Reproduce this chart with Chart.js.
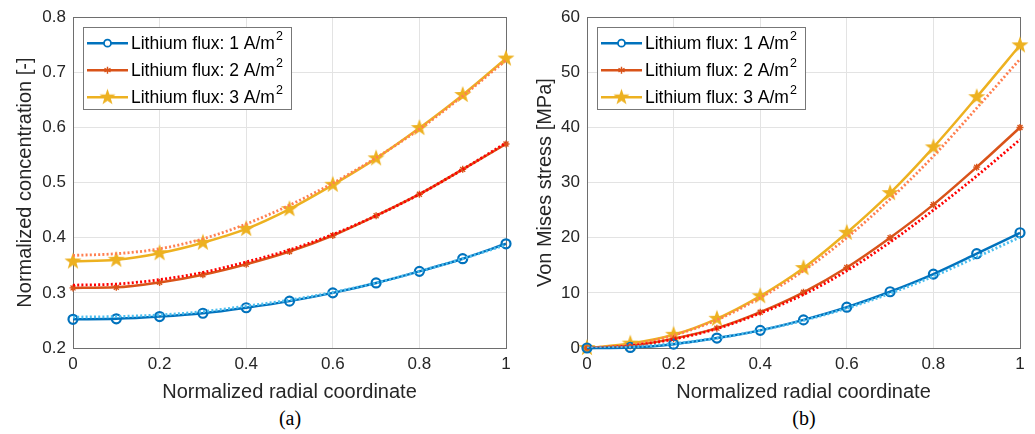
<!DOCTYPE html>
<html lang="en">
<head>
<meta charset="UTF-8">
<title>Lithium flux</title>
<script src="https://cdn.jsdelivr.net/npm/chart.js"></script>
<style>
    body { margin: 0; background: #fff; width: 1035px; height: 434px; overflow: hidden; position: relative; }
    .panel { position: absolute; top: 0; }
    .cap { position: absolute; top: 407px; font-family: "Liberation Serif", "Times New Roman", serif; font-size: 20px; color: #000; transform: translateX(-50%); }
</style>
</head>
<body>
<div class="panel" style="left:0"><canvas id="chartA" width="520" height="404"></canvas></div>
<div class="panel" style="left:520px"><canvas id="chartB" width="515" height="404"></canvas></div>
<div class="cap" style="left:290px">(a)</div>
<div class="cap" style="left:804px">(b)</div>
<script>
// radial coordinate
const xs = [0, 0.1, 0.2, 0.3, 0.4, 0.5, 0.6, 0.7, 0.8, 0.9, 1.0];
const labels = ['Lithium flux: 1 A/m²', 'Lithium flux: 2 A/m²', 'Lithium flux: 3 A/m²'];

// (a) normalized concentration, solid = markers, dotted = reference curve
const conc1 = [0.252, 0.253, 0.257, 0.263, 0.273, 0.285, 0.300, 0.318, 0.339, 0.362, 0.389];
const conc2 = [0.309, 0.310, 0.319, 0.333, 0.352, 0.375, 0.404, 0.440, 0.479, 0.524, 0.570];
const conc3 = [0.357, 0.360, 0.372, 0.391, 0.416, 0.452, 0.496, 0.544, 0.599, 0.659, 0.725];
const conc1Dot = [0.256, 0.257, 0.260, 0.266, 0.276, 0.287, 0.301, 0.318, 0.339, 0.362, 0.387];
const conc2Dot = [0.314, 0.316, 0.324, 0.337, 0.356, 0.378, 0.406, 0.440, 0.479, 0.524, 0.572];
const conc3Dot = [0.368, 0.371, 0.380, 0.398, 0.425, 0.459, 0.499, 0.545, 0.597, 0.657, 0.722];

// (b) von Mises stress [MPa]
const stress1 = [0, 0.1, 0.7, 1.8, 3.2, 5.1, 7.4, 10.2, 13.4, 17.1, 20.9];
const stress2 = [0, 0.4, 1.7, 3.6, 6.5, 10.1, 14.6, 20.0, 26.0, 32.8, 40.0];
const stress3 = [0, 0.8, 2.4, 5.3, 9.4, 14.5, 20.9, 28.1, 36.4, 45.5, 54.9];
const stress1Dot = [0, 0.2, 0.8, 1.8, 3.2, 5.0, 7.2, 9.9, 13.0, 16.5, 20.1];
const stress2Dot = [0, 0.4, 1.6, 3.5, 6.3, 9.7, 14.0, 19.2, 25.0, 31.2, 37.8];
const stress3Dot = [0, 0.6, 2.3, 5.1, 9.1, 14.0, 20.0, 27.0, 34.8, 43.5, 52.4];

const BLUE = '#0072BD', RED = '#D95319', YEL = '#EDB120';
const BLUE_DOT = '#4DBEEE', RED_DOT = '#FF0000', YEL_DOT = '#FF7F50';
const FONT = '"Liberation Sans", Arial, sans-serif';
const TXT = '#262626';

function makeStar(r, color) {
    const c = document.createElement('canvas');
    c.width = c.height = Math.ceil(2 * r + 2);
    const g = c.getContext('2d');
    const cx = c.width / 2, cy = c.height / 2;
    g.beginPath();
    for (let i = 0; i < 10; i++) {
        const rad = i % 2 === 0 ? r : r * 0.4;
        const a = -Math.PI / 2 + i * Math.PI / 5;
        g.lineTo(cx + rad * Math.cos(a), cy + rad * Math.sin(a));
    }
    g.closePath();
    g.fillStyle = color;
    g.fill();
    return c;
}
const starBig = makeStar(9, YEL);
const starSmall = makeStar(8.5, YEL);

function pts(arr) { return xs.map((x, i) => ({ x: x, y: arr[i] })); }

function solid(label, arr, color, style, radius, bw, legendMark) {
    return {
        label: label, data: pts(arr), borderColor: color, backgroundColor: 'rgba(0,0,0,0)',
        borderWidth: 2.5, pointStyle: style, pointRadius: radius, pointBorderColor: color,
        pointBorderWidth: bw, pointBackgroundColor: 'rgba(0,0,0,0)',
        cubicInterpolationMode: 'monotone', clip: false, order: 2, legendMark: legendMark
    };
}
function dotted(arr, color) {
    return {
        data: pts(arr), borderColor: color, borderWidth: 2.8, borderDash: [2, 2.2],
        pointRadius: 0, cubicInterpolationMode: 'monotone', order: 1, noLegend: true
    };
}

// axes frame (top/right border too)
const framePlugin = {
    id: 'frame',
    beforeDatasetsDraw(chart) {
        const a = chart.chartArea, ctx = chart.ctx;
        ctx.save();
        ctx.strokeStyle = '#6e6e6e';
        ctx.lineWidth = 1;
        ctx.strokeRect(Math.round(a.left) + 0.5, Math.round(a.top) + 0.5,
            Math.round(a.right - a.left), Math.round(a.bottom - a.top));
        ctx.restore();
    }
};

// boxed legend in upper left, superscript for the unit
const legendPlugin = {
    id: 'boxLegend',
    afterDatasetsDraw(chart) {
        const ctx = chart.ctx, a = chart.chartArea;
        const items = chart.data.datasets.filter(d => !d.noLegend);
        const x0 = a.left + 10, y0 = a.top + 10;
        const LF = '17.5px ' + FONT;
        ctx.save();
        ctx.font = LF;
        let maxW = 0;
        items.forEach(d => {
            const base = d.label.replace('²', '');
            maxW = Math.max(maxW, ctx.measureText(base).width + 10);
        });
        const w = 48 + maxW + 6, h = 82;
        ctx.fillStyle = '#fff';
        ctx.fillRect(x0, y0, w, h);
        ctx.strokeStyle = '#777';
        ctx.lineWidth = 1;
        ctx.strokeRect(Math.round(x0) + 0.5, Math.round(y0) + 0.5, Math.round(w), h);
        items.forEach((d, i) => {
            const cy = y0 + 16 + i * 27;
            ctx.strokeStyle = d.borderColor;
            ctx.lineWidth = 2.5;
            ctx.beginPath();
            ctx.moveTo(x0 + 4, cy);
            ctx.lineTo(x0 + 45, cy);
            ctx.stroke();
            const mx = x0 + 24.5;
            const m = d.legendMark;
            if (m === 'circle') {
                ctx.lineWidth = 1.8;
                ctx.beginPath();
                ctx.arc(mx, cy, 3.5, 0, Math.PI * 2);
                ctx.fillStyle = '#fff';
                ctx.fill();
                ctx.stroke();
            } else if (m === 'asterisk') {
                ctx.lineWidth = 1.4;
                ctx.beginPath();
                for (let k = 0; k < 3; k++) {
                    const ang = Math.PI / 2 + k * Math.PI / 3;
                    ctx.moveTo(mx - 3.5 * Math.cos(ang), cy - 3.5 * Math.sin(ang));
                    ctx.lineTo(mx + 3.5 * Math.cos(ang), cy + 3.5 * Math.sin(ang));
                }
                ctx.stroke();
            } else {
                ctx.drawImage(starSmall, mx - starSmall.width / 2, cy - starSmall.height / 2);
            }
            const base = d.label.replace('²', '');
            ctx.fillStyle = '#000';
            ctx.textBaseline = 'middle';
            ctx.font = LF;
            ctx.fillText(base, x0 + 48, cy + 1);
            const bw = ctx.measureText(base).width;
            ctx.font = '12.5px ' + FONT;
            ctx.fillText('2', x0 + 49 + bw, cy - 7);
        });
        ctx.restore();
    }
};

function makeOptions(yMin, yMax, yStep, yTitle, yWidth, padRight) {
    return {
        responsive: false, animation: false, devicePixelRatio: 1,
        layout: { padding: { left: 0, top: 17, right: padRight, bottom: 0 } },
        plugins: { legend: { display: false }, tooltip: { enabled: false } },
        scales: {
            x: {
                type: 'linear', min: 0, max: 1,
                ticks: { stepSize: 0.2, color: TXT, font: { family: FONT, size: 17 }, padding: 6, maxRotation: 0,
                    callback: v => String(Math.round(v * 10) / 10) },
                grid: { color: '#e3e3e3', drawTicks: false },
                border: { display: false },
                title: { display: true, text: 'Normalized radial coordinate', color: TXT,
                    font: { family: FONT, size: 20 }, padding: { top: 0, bottom: 0 } },
                afterFit(s) { s.height = 56; }
            },
            y: {
                min: yMin, max: yMax,
                ticks: { stepSize: yStep, color: TXT, font: { family: FONT, size: 17 }, padding: 7 },
                grid: { color: '#e3e3e3', drawTicks: false },
                border: { display: false },
                title: { display: true, text: yTitle, color: TXT,
                    font: { family: FONT, size: 20 }, padding: { top: 13, bottom: 0 } },
                afterFit(s) { s.width = yWidth; }
            }
        }
    };
}

new Chart(document.getElementById('chartA'), {
    type: 'line',
    data: {
        datasets: [
            dotted(conc1Dot, BLUE_DOT),
            dotted(conc2Dot, RED_DOT),
            dotted(conc3Dot, YEL_DOT),
            solid(labels[0], conc1, BLUE, 'circle', 4.5, 2.2, 'circle'),
            solid(labels[1], conc2, RED, 'star', 3.5, 1.4, 'asterisk'),
            solid(labels[2], conc3, YEL, starBig, 9, 0, 'star')
        ]
    },
    options: makeOptions(0.2, 0.8, 0.1, 'Normalized concentration [-]', 73, 14),
    plugins: [framePlugin, legendPlugin]
});

new Chart(document.getElementById('chartB'), {
    type: 'line',
    data: {
        datasets: [
            dotted(stress1Dot, BLUE_DOT),
            dotted(stress2Dot, RED_DOT),
            dotted(stress3Dot, YEL_DOT),
            solid(labels[0], stress1, BLUE, 'circle', 4.5, 2.2, 'circle'),
            solid(labels[1], stress2, RED, 'star', 3.5, 1.4, 'asterisk'),
            solid(labels[2], stress3, YEL, starBig, 9, 0, 'star')
        ]
    },
    options: makeOptions(0, 60, 10, 'Von Mises stress [MPa]', 67, 15),
    plugins: [framePlugin, legendPlugin]
});
</script>
</body>
</html>
